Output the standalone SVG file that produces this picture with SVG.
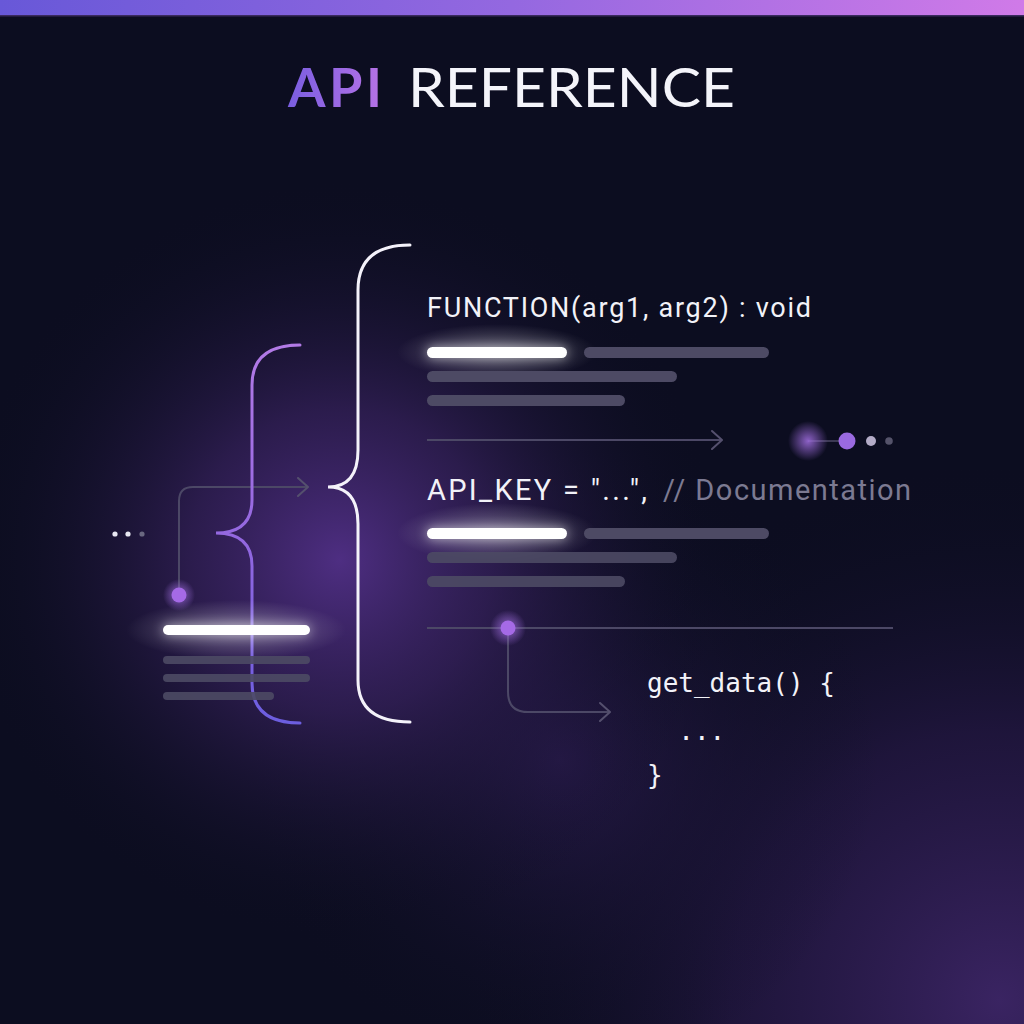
<svg xmlns="http://www.w3.org/2000/svg" width="1024" height="1024" viewBox="0 0 1024 1024">
<defs>
  <linearGradient id="topbar" x1="0" y1="0" x2="1" y2="0">
    <stop offset="0" stop-color="#6858d8"/>
    <stop offset="0.5" stop-color="#9468e0"/>
    <stop offset="1" stop-color="#d07ae8"/>
  </linearGradient>
  <linearGradient id="apiGrad" x1="288" y1="0" x2="382" y2="0" gradientUnits="userSpaceOnUse">
    <stop offset="0" stop-color="#7a5ee0"/>
    <stop offset="1" stop-color="#b672e6"/>
  </linearGradient>
  <linearGradient id="braceGrad" x1="0" y1="345" x2="0" y2="723" gradientUnits="userSpaceOnUse">
    <stop offset="0" stop-color="#b27ae6"/>
    <stop offset="0.5" stop-color="#9468e0"/>
    <stop offset="1" stop-color="#6c5ee0"/>
  </linearGradient>
  <radialGradient id="glowMain" cx="340" cy="560" r="380" gradientUnits="userSpaceOnUse">
    <stop offset="0" stop-color="#4e2e82" stop-opacity="1"/>
    <stop offset="0.4" stop-color="#38225f" stop-opacity="0.7"/>
    <stop offset="1" stop-color="#0c0d20" stop-opacity="0"/>
  </radialGradient>
  <radialGradient id="glowCorner" cx="1000" cy="1000" r="540" gradientUnits="userSpaceOnUse">
    <stop offset="0" stop-color="#3a2462" stop-opacity="1"/>
    <stop offset="0.5" stop-color="#2a1a4c" stop-opacity="0.6"/>
    <stop offset="1" stop-color="#0c0d20" stop-opacity="0"/>
  </radialGradient>
  <radialGradient id="glowMid" cx="560" cy="760" r="320" gradientUnits="userSpaceOnUse">
    <stop offset="0" stop-color="#2e1d54" stop-opacity="0.75"/>
    <stop offset="1" stop-color="#0c0d20" stop-opacity="0"/>
  </radialGradient>
  <radialGradient id="dotGlow">
    <stop offset="0" stop-color="#9a6ad8" stop-opacity="0.9"/>
    <stop offset="1" stop-color="#9a6ad8" stop-opacity="0"/>
  </radialGradient>
  <radialGradient id="whiteGlow">
    <stop offset="0" stop-color="#ffffff" stop-opacity="0.35"/>
    <stop offset="1" stop-color="#ffffff" stop-opacity="0"/>
  </radialGradient>
  <filter id="blur6" x="-50%" y="-200%" width="200%" height="500%">
    <feGaussianBlur stdDeviation="6"/>
  </filter>
  <marker id="chev" viewBox="0 0 12 20" refX="11" refY="10" markerWidth="12" markerHeight="20" markerUnits="userSpaceOnUse" orient="auto">
    <path d="M1 1 L11 10 L1 19" fill="none" stroke="#55506e" stroke-width="2" stroke-linecap="round" stroke-linejoin="round"/>
  </marker>
  <style>
    .bar-w { fill: #ffffff; }
    .bar-g { fill: #4d4a64; }
    .conn { fill: none; stroke: #4c4866; stroke-width: 2; }
    .sans { font-family: Roboto, "Liberation Sans", sans-serif; fill: #f2f2f8; }
    .mono { font-family: "DejaVu Sans Mono", "Liberation Mono", monospace; fill: #f2f2f8; font-size: 26px; }
    .title { font-family: Lato, "Open Sans", sans-serif; font-size: 54px; }
  </style>
</defs>

<!-- background -->
<rect x="0" y="0" width="1024" height="1024" fill="#0c0d20"/>
<rect x="0" y="0" width="1024" height="1024" fill="url(#glowCorner)"/>
<rect x="0" y="0" width="1024" height="1024" fill="url(#glowMid)"/>
<rect x="0" y="0" width="1024" height="1024" fill="url(#glowMain)"/>
<rect x="0" y="0" width="1024" height="15" fill="url(#topbar)"/>
<rect x="0" y="15" width="1024" height="1.5" fill="#3a2a5e"/>

<!-- title -->
<g id="title">
  <text class="title" x="288" y="107" font-weight="700" fill="url(#apiGrad)" textLength="94">API</text>
  <text class="title" x="408" y="107" font-weight="400" fill="#f4f4fa" textLength="327" lengthAdjust="spacingAndGlyphs">REFERENCE</text>
</g>

<!-- connectors -->
<g id="connectors">
  <path class="conn" d="M179 595 V501 Q179 487 193 487 H308" marker-end="url(#chev)"/>
  <path class="conn" d="M427 440 H722" marker-end="url(#chev)"/>
  <path class="conn" d="M427 628 H893" stroke="#3f3b58"/>
  <path class="conn" d="M508 628 V692 Q508 712 528 712 H610" marker-end="url(#chev)"/>
  <path d="M808 441 H847" stroke="#4c4866" stroke-width="1.5"/>
</g>

<!-- braces -->
<g id="brace-purple">
  <path d="M300 345 Q252 345 252 385 V500 Q252 533 216 533 Q252 533 252 566 V683 Q252 723 300 723" fill="none" stroke="url(#braceGrad)" stroke-width="3" stroke-linecap="round"/>
</g>
<g id="brace-white">
  <path d="M410 245 Q358 245 358 290 V450 Q358 487 328 487 Q358 487 358 524 V680 Q358 722 410 722" fill="none" stroke="#f4f2fa" stroke-width="3" stroke-linecap="round"/>
</g>

<!-- left ellipsis -->
<g id="left-dots">
  <circle cx="115" cy="534" r="2.6" fill="#e8e8f2"/>
  <circle cx="128" cy="534" r="2.6" fill="#e8e8f2"/>
  <circle cx="142" cy="534" r="2.6" fill="#6a6880"/>
</g>

<!-- left card -->
<g id="left-card">
  <ellipse cx="236" cy="630" rx="110" ry="30" fill="url(#whiteGlow)"/>
  <circle cx="179" cy="595" r="16" fill="url(#dotGlow)"/>
  <circle cx="179" cy="595" r="7.5" fill="#a56ae6"/>
  <rect class="bar-w" x="163" y="625" width="147" height="10" rx="5" filter="url(#blur6)" opacity="0.6"/>
  <rect class="bar-w" x="163" y="625" width="147" height="10" rx="5"/>
  <rect class="bar-g" x="163" y="656" width="147" height="8" rx="4" opacity="0.9"/>
  <rect class="bar-g" x="163" y="674" width="147" height="8" rx="4" opacity="0.9"/>
  <rect class="bar-g" x="163" y="692" width="111" height="8" rx="4" opacity="0.9"/>
</g>

<!-- function block -->
<g id="function-block">
  <text class="sans" x="427" y="317" font-size="27" textLength="384">FUNCTION(arg1, arg2) : void</text>
  <ellipse cx="497" cy="352" rx="100" ry="28" fill="url(#whiteGlow)"/>
  <rect class="bar-w" x="427" y="347" width="140" height="11" rx="5.5" filter="url(#blur6)" opacity="0.6"/>
  <rect class="bar-w" x="427" y="347" width="140" height="11" rx="5.5"/>
  <rect class="bar-g" x="584" y="347" width="185" height="11" rx="5.5"/>
  <rect class="bar-g" x="427" y="371" width="250" height="11" rx="5.5"/>
  <rect class="bar-g" x="427" y="395" width="198" height="11" rx="5.5"/>
</g>

<!-- right progress dots -->
<g id="right-dots">
  <circle cx="808" cy="441" r="20" fill="url(#dotGlow)"/>
  <circle cx="847" cy="441" r="8.5" fill="#9a6ae0"/>
  <circle cx="871" cy="441" r="5" fill="#b4acc8"/>
  <circle cx="889" cy="441" r="3.8" fill="#55536a"/>
</g>

<!-- api key block -->
<g id="apikey-block">
  <text class="sans" x="427" y="500" font-size="29" textLength="220">API_KEY = "...",</text>
  <text class="sans" x="663" y="500" font-size="29" style="fill:#7c7a92" textLength="248">// Documentation</text>
  <ellipse cx="497" cy="533" rx="100" ry="30" fill="url(#whiteGlow)"/>
  <rect class="bar-w" x="427" y="528" width="140" height="11" rx="5.5" filter="url(#blur6)" opacity="0.6"/>
  <rect class="bar-w" x="427" y="528" width="140" height="11" rx="5.5"/>
  <rect class="bar-g" x="584" y="528" width="185" height="11" rx="5.5"/>
  <rect class="bar-g" x="427" y="552" width="250" height="11" rx="5.5" opacity="0.9"/>
  <rect class="bar-g" x="427" y="576" width="198" height="11" rx="5.5" opacity="0.9"/>
</g>

<!-- junction dot -->
<g id="junction">
  <circle cx="508" cy="628" r="18" fill="url(#dotGlow)"/>
  <circle cx="508" cy="628" r="7.5" fill="#a56ae6"/>
</g>

<!-- code block -->
<g id="code-block">
  <text class="mono" x="647" y="692">get_data() {</text>
  <text class="mono" x="647" y="740" xml:space="preserve">  ...</text>
  <text class="mono" x="647" y="784">}</text>
</g>
</svg>
